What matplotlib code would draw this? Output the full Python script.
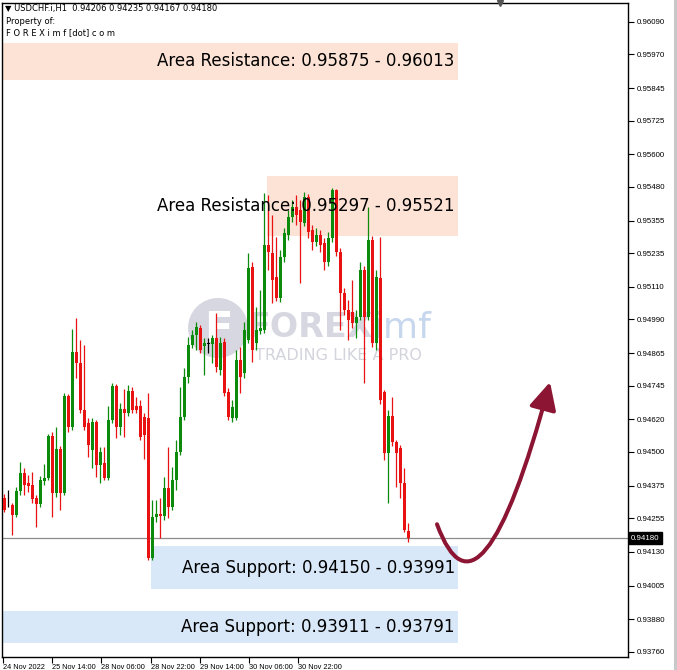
import matplotlib
matplotlib.use("Agg")
import matplotlib.pyplot as plt
from matplotlib.patches import Rectangle, Circle, FancyArrowPatch
from matplotlib.path import Path
from matplotlib.transforms import blended_transform_factory

# hourly USDCHF candles
opens = [
    0.94329, 0.94310, 0.94303, 0.94266, 0.94355, 0.94421, 0.94384, 0.94377, 0.94329, 0.94307,
    0.94392, 0.94403, 0.94558, 0.94347, 0.94510, 0.94347, 0.94706, 0.94592, 0.94869, 0.94828,
    0.94654, 0.94606, 0.94506, 0.94610, 0.94451, 0.94458, 0.94403, 0.94617, 0.94743, 0.94592,
    0.94658, 0.94643, 0.94725, 0.94669, 0.94669, 0.94629, 0.94625, 0.94107, 0.94259, 0.94270,
    0.94262, 0.94366, 0.94296, 0.94395, 0.94499, 0.94629, 0.94777, 0.94895, 0.94932, 0.94958,
    0.94891, 0.94899, 0.94899, 0.94921, 0.94802, 0.94906, 0.94721, 0.94625, 0.94625, 0.94839,
    0.94791, 0.94913, 0.95184, 0.94902, 0.94947, 0.94950, 0.95265, 0.95235, 0.95147, 0.95069,
    0.95221, 0.95302, 0.95369, 0.95406, 0.95394, 0.95346, 0.95443, 0.95320, 0.95276, 0.95302,
    0.95272, 0.95202, 0.95291, 0.95468, 0.95239, 0.95087, 0.95024, 0.95017, 0.94976, 0.94999,
    0.95172, 0.94999, 0.95283, 0.94902, 0.95143, 0.94721, 0.94495, 0.94632, 0.94536, 0.94514,
    0.94384, 0.94206]
highs = [
    0.94344, 0.94358, 0.94310, 0.94370, 0.94462, 0.94440, 0.94414, 0.94425, 0.94340, 0.94410,
    0.94455, 0.94566, 0.94573, 0.94592, 0.94521, 0.94717, 0.94714, 0.94954, 0.94995, 0.94913,
    0.94895, 0.94625, 0.94625, 0.94617, 0.94518, 0.94518, 0.94669, 0.94754, 0.94751, 0.94680,
    0.94732, 0.94747, 0.94740, 0.94703, 0.94691, 0.94643, 0.94717, 0.94321, 0.94321, 0.94329,
    0.94407, 0.94518, 0.94444, 0.94543, 0.94740, 0.94810, 0.94925, 0.94950, 0.94980, 0.94969,
    0.94921, 0.94921, 0.94932, 0.95013, 0.94925, 0.94921, 0.94736, 0.94691, 0.94876, 0.94888,
    0.94980, 0.95235, 0.95202, 0.95036, 0.95098, 0.95457, 0.95450, 0.95376, 0.95295, 0.95246,
    0.95328, 0.95394, 0.95431, 0.95450, 0.95431, 0.95461, 0.95454, 0.95339, 0.95328, 0.95320,
    0.95291, 0.95313, 0.95476, 0.95472, 0.95254, 0.95106, 0.95061, 0.95135, 0.95024, 0.95202,
    0.95187, 0.95406, 0.95298, 0.95172, 0.95295, 0.94728, 0.94654, 0.94703, 0.94543, 0.94525,
    0.94440, 0.94235]
lows = [
    0.94277, 0.94296, 0.94192, 0.94259, 0.94340, 0.94340, 0.94351, 0.94310, 0.94222, 0.94296,
    0.94377, 0.94395, 0.94259, 0.94333, 0.94284, 0.94340, 0.94573, 0.94580, 0.94773, 0.94643,
    0.94580, 0.94481, 0.94440, 0.94407, 0.94384, 0.94395, 0.94395, 0.94606, 0.94551, 0.94562,
    0.94555, 0.94632, 0.94643, 0.94643, 0.94543, 0.94473, 0.94099, 0.94099, 0.94240, 0.94181,
    0.94247, 0.94255, 0.94284, 0.94358, 0.94488, 0.94617, 0.94754, 0.94884, 0.94876, 0.94865,
    0.94784, 0.94865, 0.94828, 0.94795, 0.94784, 0.94706, 0.94617, 0.94610, 0.94617, 0.94717,
    0.94773, 0.94902, 0.94832, 0.94876, 0.94936, 0.94939, 0.95172, 0.95050, 0.95058, 0.95054,
    0.95202, 0.95283, 0.95350, 0.95339, 0.95124, 0.95335, 0.95291, 0.95246, 0.95261, 0.95239,
    0.95172, 0.95187, 0.95276, 0.95224, 0.94950, 0.95006, 0.94913, 0.94958, 0.94921, 0.94987,
    0.94754, 0.94987, 0.94888, 0.94876, 0.94677, 0.94469, 0.94310, 0.94521, 0.94370, 0.94329,
    0.94203, 0.94167]
closes = [
    0.94284, 0.94310, 0.94266, 0.94355, 0.94421, 0.94377, 0.94373, 0.94325, 0.94307, 0.94395,
    0.94403, 0.94558, 0.94347, 0.94510, 0.94347, 0.94706, 0.94592, 0.94869, 0.94828, 0.94654,
    0.94592, 0.94525, 0.94610, 0.94451, 0.94499, 0.94403, 0.94617, 0.94743, 0.94592, 0.94658,
    0.94643, 0.94725, 0.94654, 0.94654, 0.94555, 0.94562, 0.94107, 0.94259, 0.94270, 0.94262,
    0.94366, 0.94296, 0.94395, 0.94499, 0.94629, 0.94777, 0.94895, 0.94932, 0.94962, 0.94876,
    0.94902, 0.94899, 0.94921, 0.94814, 0.94902, 0.94717, 0.94629, 0.94666, 0.94839, 0.94777,
    0.94950, 0.95180, 0.94876, 0.94950, 0.94958, 0.95265, 0.95239, 0.95135, 0.95069, 0.95221,
    0.95309, 0.95369, 0.95406, 0.95376, 0.95350, 0.95443, 0.95313, 0.95276, 0.95302, 0.95265,
    0.95202, 0.95291, 0.95468, 0.95239, 0.95087, 0.95024, 0.94987, 0.94976, 0.94999, 0.95172,
    0.94999, 0.95283, 0.94902, 0.95147, 0.94691, 0.94495, 0.94632, 0.94536, 0.94495, 0.94384,
    0.94210, 0.94180]

last_price = 0.94180

# zones: (low, high, left bar index, label)
zone_lows = [0.95875, 0.95297, 0.93991, 0.93791]
zone_highs = [0.96013, 0.95521, 0.94150, 0.93911]
zone_starts = [-0.5, 65.75, 36.75, -0.5]
zone_labels = ["Area Resistance: 0.95875 - 0.96013",
               "Area Resistance: 0.95297 - 0.95521",
               "Area Support: 0.94150 - 0.93991",
               "Area Support: 0.93911 - 0.93791"]
zone_colors = ["#fde3d6", "#fde3d6", "#d8e8f8", "#d8e8f8"]
zone_end = 113.5

y_ticks = [0.96090, 0.95970, 0.95845, 0.95725, 0.95600, 0.95480, 0.95355, 0.95235,
           0.95110, 0.94990, 0.94865, 0.94745, 0.94620, 0.94500, 0.94375, 0.94255,
           0.94130, 0.94005, 0.93880, 0.93760]
x_tick_pos = [-0.3, 11.9, 24.2, 36.7, 49.0, 61.3, 73.5]
x_tick_labels = ["24 Nov 2022", "25 Nov 14:00", "28 Nov 06:00", "28 Nov 22:00",
                 "29 Nov 14:00", "30 Nov 06:00", "30 Nov 22:00"]

# projected path drawn on the chart
arrow_pts = [(108.25, 0.94232), (119.0, 0.93796), (136.5, 0.94758)]

W, H = 677, 670
fig = plt.figure(figsize=(W / 100, H / 100), dpi=100)
ax = fig.add_axes([2 / W, 13 / H, 626 / W, 654 / H])
ax.set_xlim(-0.5, 156)
ax.set_ylim(0.93741, 0.96160)

# zones
for lo, hi, x0, lab, col in zip(zone_lows, zone_highs, zone_starts, zone_labels, zone_colors):
    ax.add_patch(Rectangle((x0, lo), zone_end - x0, hi - lo, facecolor=col,
                           edgecolor="none", zorder=1))
    ax.text(zone_end - 0.8, (lo + hi) / 2, lab, ha="right", va="center",
            fontsize=12, color="black", zorder=6)

# watermark
wm = "#c9cad6"
ax.add_patch(Circle((2.18, (H - 328) / 100), 0.30, transform=fig.dpi_scale_trans,
                    facecolor=wm, edgecolor="none", alpha=0.75, zorder=0.5))
ax.text(218 / W, 1 - 330 / H, "F", transform=fig.transFigure, ha="center", va="center",
        fontsize=30, fontweight="bold", color="white", zorder=0.6)
ax.text(248 / W, 1 - 328 / H, "FOREX", transform=fig.transFigure, ha="left", va="center",
        fontsize=24, fontweight="bold", color=wm, alpha=0.75, zorder=0.6)
ax.text(374 / W, 1 - 328 / H, "imf", transform=fig.transFigure, ha="left", va="center",
        fontsize=26, color="#b8cdea", alpha=0.8, zorder=0.6)
ax.text(255 / W, 1 - 355 / H, "TRADING LIKE A PRO", transform=fig.transFigure,
        ha="left", va="center", fontsize=11.5, color="#d3d4dc", zorder=0.6)

# current price line
ax.axhline(last_price, color="#8c8c8c", lw=0.9, zorder=2)

# candles
xs = list(range(len(opens)))
cols = []
for o, c in zip(opens, closes):
    if c > o:
        cols.append("#0b8a0b")
    elif c < o:
        cols.append("#e81212")
    else:
        cols.append("black")
ax.vlines(xs, lows, highs, colors=cols, lw=0.9, zorder=3)
bottoms = [min(o, c) for o, c in zip(opens, closes)]
heights = [max(abs(c - o), 0.00002) for o, c in zip(opens, closes)]
ax.bar(xs, heights, bottom=bottoms, width=0.75, color=cols, linewidth=0, zorder=3)

# arrow
codes = [Path.MOVETO, Path.CURVE3, Path.CURVE3]
arr = FancyArrowPatch(path=Path(arrow_pts, codes),
                      arrowstyle="-|>,head_length=1.1,head_width=0.55",
                      mutation_scale=15, color="#8b1533", lw=2.9,
                      shrinkA=0, shrinkB=0, zorder=7)
ax.add_patch(arr)

# axes styling
for s in ax.spines.values():
    s.set_color("black")
    s.set_linewidth(1)
ax.yaxis.tick_right()
ax.set_yticks(y_ticks)
ax.set_yticklabels([f"{v:.5f}" for v in y_ticks], family="Liberation Sans")
ax.tick_params(axis="y", length=4, width=0.8, pad=2, labelsize=5.7, colors="black")
ax.set_xticks(x_tick_pos)
ax.set_xticklabels(x_tick_labels, family="Liberation Sans")
ax.tick_params(axis="x", length=4, width=0.8, pad=1, labelsize=5.3, colors="black")
for t in ax.get_xticklabels():
    t.set_ha("left")

# last price tag
tr = blended_transform_factory(ax.transAxes, ax.transData)
ax.text(1.005, last_price, f"{last_price:.5f}", transform=tr, ha="left", va="center",
        fontsize=5.7, family="Liberation Sans", color="white", clip_on=False, zorder=8,
        bbox=dict(boxstyle="square,pad=0.3", facecolor="black", edgecolor="black"))

# chart-shift marker on top border
ax.plot([124], [0.96160], marker="v", ms=5, color="#555555", clip_on=False, zorder=8)

# header text
fig.text(5 / W, 1 - 8 / H, "\u25bc USDCHF.i,H1  0.94206 0.94235 0.94167 0.94180",
         fontsize=6.0, ha="left", va="center")
fig.text(6 / W, 1 - 21 / H, "Property of:", fontsize=6.0, ha="left", va="center")
fig.text(6 / W, 1 - 33 / H, "F O R E X i m f [dot] c o m", fontsize=6.0,
         ha="left", va="center")

# window border on the right
fig.patches.append(Rectangle((674 / W, 0), 3 / W, 1, transform=fig.transFigure,
                             facecolor="#c8c8c8", edgecolor="none"))

fig.savefig("out.png", dpi=100)
plt.close(fig)
